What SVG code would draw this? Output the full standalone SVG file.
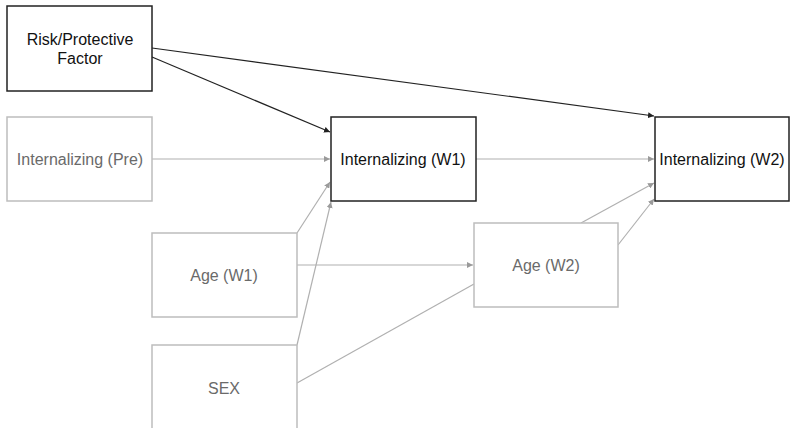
<svg xmlns="http://www.w3.org/2000/svg" width="792" height="428" viewBox="0 0 792 428">
<style>
.bk{fill:#fff;stroke:#222;stroke-width:1.5}
.gr{fill:#fff;stroke:#bdbdbd;stroke-width:1.5}
.tb{font-family:"Liberation Sans",Arial,sans-serif;font-size:16px;fill:#111;text-anchor:middle}
.tg{font-family:"Liberation Sans",Arial,sans-serif;font-size:16px;fill:#6a6a6a;text-anchor:middle}
.eb{stroke:#222;stroke-width:1.2;fill:none;marker-end:url(#ab)}
.eg{stroke:#b0b0b0;stroke-width:1.2;fill:none;marker-end:url(#ag)}
.eg0{stroke:#b0b0b0;stroke-width:1.2;fill:none}
</style>
<defs>
<marker id="ab" viewBox="0 0 10 10" refX="10" refY="5" markerWidth="6" markerHeight="6" markerUnits="userSpaceOnUse" orient="auto"><path d="M0,0L10,5L0,10z" fill="#222"/></marker>
<marker id="ag" viewBox="0 0 10 10" refX="10" refY="5" markerWidth="6" markerHeight="6" markerUnits="userSpaceOnUse" orient="auto"><path d="M0,0L10,5L0,10z" fill="#9a9a9a"/></marker>
</defs>
<rect width="792" height="428" fill="#fff"/>
<g id="edges">
<line class="eb" x1="152" y1="57" x2="330" y2="132"/>
<line class="eb" x1="152" y1="48" x2="654" y2="116"/>
<line class="eg" x1="152" y1="159" x2="330" y2="159"/>
<line class="eg" x1="476" y1="159" x2="654" y2="159"/>
<line class="eg" x1="297" y1="233" x2="330" y2="182"/>
<line class="eg" x1="297" y1="345" x2="331" y2="202"/>
<line class="eg" x1="297" y1="265" x2="473" y2="265"/>
<line class="eg0" x1="297" y1="383" x2="474" y2="284"/>
<line class="eg" x1="581" y1="223" x2="654" y2="183"/>
<line class="eg" x1="618" y1="245" x2="654" y2="199"/>
</g>
<g id="risk">
<rect class="bk" x="7" y="6" width="145" height="85"/>
<text class="tb" x="80" y="45">Risk/Protective</text>
<text class="tb" x="80" y="64">Factor</text>
</g>
<g id="int_pre">
<rect class="gr" x="7" y="117" width="145" height="84"/>
<text class="tg" x="80" y="165">Internalizing (Pre)</text>
</g>
<g id="int_w1">
<rect class="bk" x="331" y="117" width="145" height="84"/>
<text class="tb" x="403" y="165">Internalizing (W1)</text>
</g>
<g id="int_w2">
<rect class="bk" x="655" y="117" width="134" height="84"/>
<text class="tb" x="722" y="165">Internalizing (W2)</text>
</g>
<g id="age_w1">
<rect class="gr" x="152" y="233" width="145" height="84"/>
<text class="tg" x="224" y="281">Age (W1)</text>
</g>
<g id="sex">
<rect class="gr" x="152" y="345" width="145" height="100"/>
<text class="tg" x="224" y="394">SEX</text>
</g>
<g id="age_w2">
<rect class="gr" x="474" y="223" width="144" height="84"/>
<text class="tg" x="546" y="271">Age (W2)</text>
</g>
</svg>
